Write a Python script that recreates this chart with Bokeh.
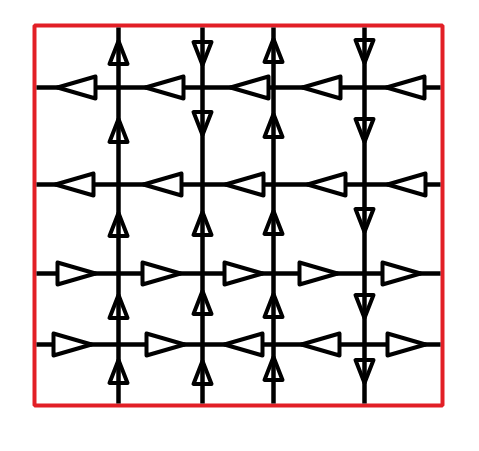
from bokeh.plotting import figure
from bokeh.models import Range1d
from bokeh.embed import file_html
from bokeh.resources import INLINE

# grid of nodes (page pixels, y grows downward)
col_x = [118, 202, 273, 364]
row_y = [87, 184, 273, 344]
box_left, box_right, box_top, box_bottom = 34, 442, 25, 405

# arrows on the vertical lines, top segment to bottom segment
v_pos = [
    [52, 130, 224, 306, 371],
    [53, 123, 223, 302, 372],
    [50, 125, 222, 305, 368],
    [51, 130, 220, 306, 371],
]
v_dir = [
    ["up", "up", "up", "up", "up"],
    ["down", "down", "up", "up", "up"],
    ["up", "up", "up", "up", "up"],
    ["down", "down", "down", "down", "down"],
]

# arrows on the horizontal lines, left segment to right segment
h_pos = [
    [76, 164, 249, 321, 405],
    [74, 162, 244, 326, 406],
    [76, 161, 243, 318, 401],
    [72, 165, 243, 320, 406],
]
h_dir = [
    ["left", "left", "left", "left", "left"],
    ["left", "left", "left", "left", "left"],
    ["right", "right", "right", "right", "right"],
    ["right", "right", "left", "left", "right"],
]

W, H = 463, 435
p = figure(width=W, height=H, output_backend="svg", toolbar_location=None,
           x_range=Range1d(0, W), y_range=Range1d(H, 0),
           min_border=0)
p.axis.visible = False
p.grid.visible = False
p.outline_line_color = None

# red frame
p.quad(left=[box_left], right=[box_right], top=[box_top], bottom=[box_bottom],
       fill_color=None, line_color="#e21f26", line_width=4)

# the grid lines
p.segment(x0=[box_left + 2] * len(row_y), x1=[box_right - 2] * len(row_y),
          y0=row_y, y1=row_y, line_color="black", line_width=4.5)
p.segment(x0=col_x, x1=col_x, y0=[box_top + 2] * len(col_x),
          y1=[box_bottom - 2] * len(col_x), line_color="black", line_width=4.5)

# arrow heads
hl, hh = 38, 11
hxs, hys = [], []
for y, xs, ds in zip(row_y, h_pos, h_dir):
    for cx, d in zip(xs, ds):
        s = 1 if d == "right" else -1
        tip, base = cx + s * hl / 2, cx - s * hl / 2
        hxs.append([tip, base, base])
        hys.append([y, y - hh, y + hh])
p.patches(hxs, hys, fill_color="white", line_color="black",
          line_width=4, line_join="round")

vl, vw = 23, 9
vxs, vys = [], []
for x, ys, ds in zip(col_x, v_pos, v_dir):
    for cy, d in zip(ys, ds):
        s = 1 if d == "down" else -1
        tip, base = cy + s * vl / 2, cy - s * vl / 2
        vxs.append([x, x - vw, x + vw])
        vys.append([tip, base, base])
p.patches(vxs, vys, fill_color=None, line_color="black",
          line_width=4, line_join="round")

open("out.html", "w").write(file_html(p, INLINE))
